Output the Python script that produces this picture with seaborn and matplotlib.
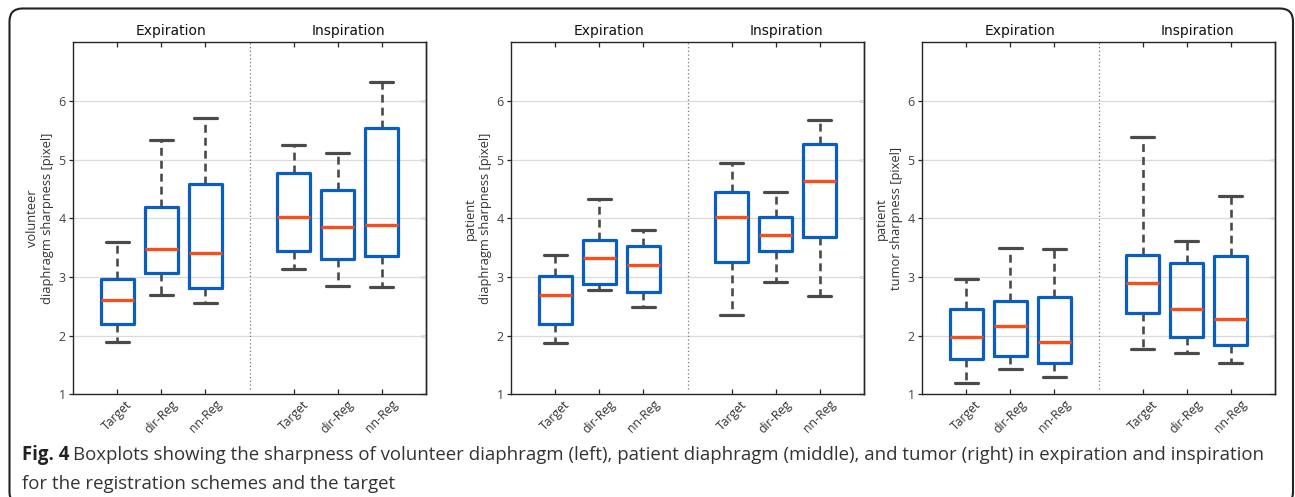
import numpy as np
import pandas as pd
import matplotlib
matplotlib.use("Agg")
import matplotlib.pyplot as plt
import matplotlib.transforms as mtransforms
from matplotlib.patches import FancyBboxPatch
import seaborn as sns

# ---------------- data ----------------
categories = ["Target", "dir-Reg", "nn-Reg", "Target", "dir-Reg", "nn-Reg"]
positions = [1, 2, 3, 5, 6, 7]
groups = ["Expiration", "Inspiration"]
group_x = [2.22, 6.25]

# volunteer diaphragm
vol_lo = [1.90, 2.70, 2.55, 3.13, 2.85, 2.83]
vol_q1 = [2.20, 3.07, 2.82, 3.44, 3.31, 3.36]
vol_med = [2.60, 3.48, 3.41, 4.03, 3.86, 3.89]
vol_q3 = [2.96, 4.19, 4.59, 4.78, 4.49, 5.54]
vol_hi = [3.60, 5.34, 5.71, 5.25, 5.12, 6.32]

# patient diaphragm
pat_lo = [1.88, 2.77, 2.48, 2.35, 2.92, 2.68]
pat_q1 = [2.20, 2.88, 2.75, 3.26, 3.44, 3.68]
pat_med = [2.70, 3.33, 3.21, 4.03, 3.72, 4.64]
pat_q3 = [3.01, 3.63, 3.53, 4.44, 4.03, 5.27]
pat_hi = [3.38, 4.33, 3.80, 4.95, 4.44, 5.68]

# patient tumor
tum_lo = [1.19, 1.43, 1.29, 1.78, 1.71, 1.54]
tum_q1 = [1.60, 1.66, 1.54, 2.39, 1.97, 1.84]
tum_med = [1.97, 2.17, 1.90, 2.89, 2.46, 2.29]
tum_q3 = [2.45, 2.59, 2.66, 3.37, 3.23, 3.36]
tum_hi = [2.96, 3.50, 3.48, 5.39, 3.62, 4.38]

ylabels = ["volunteer\ndiaphragm sharpness [pixel]",
           "patient\ndiaphragm sharpness [pixel]",
           "patient\ntumor sharpness [pixel]"]
yticks = [1, 2, 3, 4, 5, 6]

caption_bold = "Fig. 4"
caption_line1 = ("Boxplots showing the sharpness of volunteer diaphragm (left), patient diaphragm "
                 "(middle), and tumor (right) in expiration and inspiration")
caption_line2 = "for the registration schemes and the target"

panels = [
    (vol_lo, vol_q1, vol_med, vol_q3, vol_hi),
    (pat_lo, pat_q1, pat_med, pat_q3, pat_hi),
    (tum_lo, tum_q1, tum_med, tum_q3, tum_hi),
]

# ---------------- style ----------------
sns.set_theme(style="white")
plt.rcParams["font.family"] = ["DejaVu Sans"]

BLUE = "#0A5EC0"
MED = "#F4501E"
WHISK = "#4A4A4A"
SPINE = "#262626"
TXT = "#333333"
SANS = ["Open Sans", "DejaVu Sans"]

fig = plt.figure(figsize=(12.95, 4.97), dpi=100)
W, H = 1295, 497

ax_lefts = [73.3, 511.3, 922.3]
ax_w = 352.5
ax_top, ax_bot = 42.3, 394.3

for k, (lo, q1, med, q3, hi) in enumerate(panels):
    ax = fig.add_axes([ax_lefts[k] / W, 1 - ax_bot / H, ax_w / W, (ax_bot - ax_top) / H])
    rows = []
    for i, p in enumerate(positions):
        for v in (lo[i], q1[i], med[i], q3[i], hi[i]):
            rows.append({"pos": p, "val": v})
    df = pd.DataFrame(rows)

    sns.boxplot(
        data=df, x="pos", y="val", orient="x", native_scale=True, ax=ax,
        fill=False, color=BLUE, width=0.76, whis=(0, 100), showfliers=False,
        linewidth=2.3,
        boxprops=dict(color=BLUE, linewidth=2.3, zorder=4),
        medianprops=dict(color=MED, linewidth=2.4, zorder=5),
        whiskerprops=dict(color=WHISK, linewidth=1.9, linestyle=(0, (3.0, 1.9)), zorder=3),
        capprops=dict(color=WHISK, linewidth=2.3, zorder=3),
    )
    # widen caps (style)
    for cont in ax.containers:
        if hasattr(cont, "caps"):
            for cap in cont.caps:
                xd = np.asarray(cap.get_xdata(), dtype=float)
                c = xd.mean()
                cap.set_xdata(c + (xd - c) * 0.53 / (xd.max() - xd.min()))

    ax.set_xlim(0, 8)
    ax.set_ylim(1, 7)
    ax.set_xticks(positions)
    ax.set_xticklabels(categories, rotation=45, ha="center", va="top",
                       fontsize=8.8, color=TXT, family=SANS)
    ax.set_yticks(yticks)
    ax.set_yticklabels([str(t) for t in yticks], fontsize=9, color="#444444", family=SANS)
    ax.set_xlabel("")
    ax.set_ylabel(ylabels[k], fontsize=9.3, color=TXT, family=SANS,
                  linespacing=1.25, labelpad=3)
    ax.yaxis.grid(True, color="#DADADA", linewidth=0.9)
    ax.xaxis.grid(False)
    ax.set_axisbelow(True)
    for sp in ax.spines.values():
        sp.set_visible(True)
        sp.set_color(SPINE)
        sp.set_linewidth(1.0)
    ax.tick_params(axis="x", direction="in", length=3.5, width=0.9, color=SPINE,
                   bottom=True, top=True, pad=2.5)
    ax.tick_params(axis="y", direction="out", length=3, width=0.9, color=SPINE,
                   left=True, right=False, pad=2.5)
    # right-side inward ticks
    sec = ax.secondary_yaxis("right")
    sec.set_yticks(yticks)
    sec.set_yticklabels([])
    sec.tick_params(direction="in", length=3.5, width=0.9, color=SPINE)
    sec.spines["right"].set_color(SPINE)
    sec.spines["right"].set_linewidth(1.0)

    ax.axvline(4, ymin=0.015, ymax=1, color="#777777", linestyle=(0, (1, 2)), linewidth=0.9)

    trans = mtransforms.blended_transform_factory(ax.transData, ax.transAxes)
    for g, gx in zip(groups, group_x):
        ax.text(gx, 1.013, g, transform=trans, ha="center", va="bottom",
                fontsize=10, color="#111111")

# frame with rounded corners
frame = FancyBboxPatch((9.5, -8), 1283.5, 497 - 8.5 + 8,
                       boxstyle="round,pad=0,rounding_size=13",
                       transform=mtransforms.IdentityTransform(),
                       fill=False, edgecolor="#222222", linewidth=1.5)
fig.add_artist(frame)

# caption
CAP_SIZE = 13.4
t1 = fig.text(22 / W, 1 - 460 / H, caption_bold, fontsize=CAP_SIZE, fontweight="bold",
              color="#222222", family=SANS, va="baseline")
fig.canvas.draw()
bb = t1.get_window_extent(renderer=fig.canvas.get_renderer())
fig.text((bb.x1 + 4) / W, 1 - 460 / H, caption_line1, fontsize=CAP_SIZE, color="#333333",
         family=SANS, va="baseline")
fig.text(22 / W, 1 - 489 / H, caption_line2, fontsize=CAP_SIZE, color="#333333",
         family=SANS, va="baseline")

fig.savefig("out.png", dpi=100)
